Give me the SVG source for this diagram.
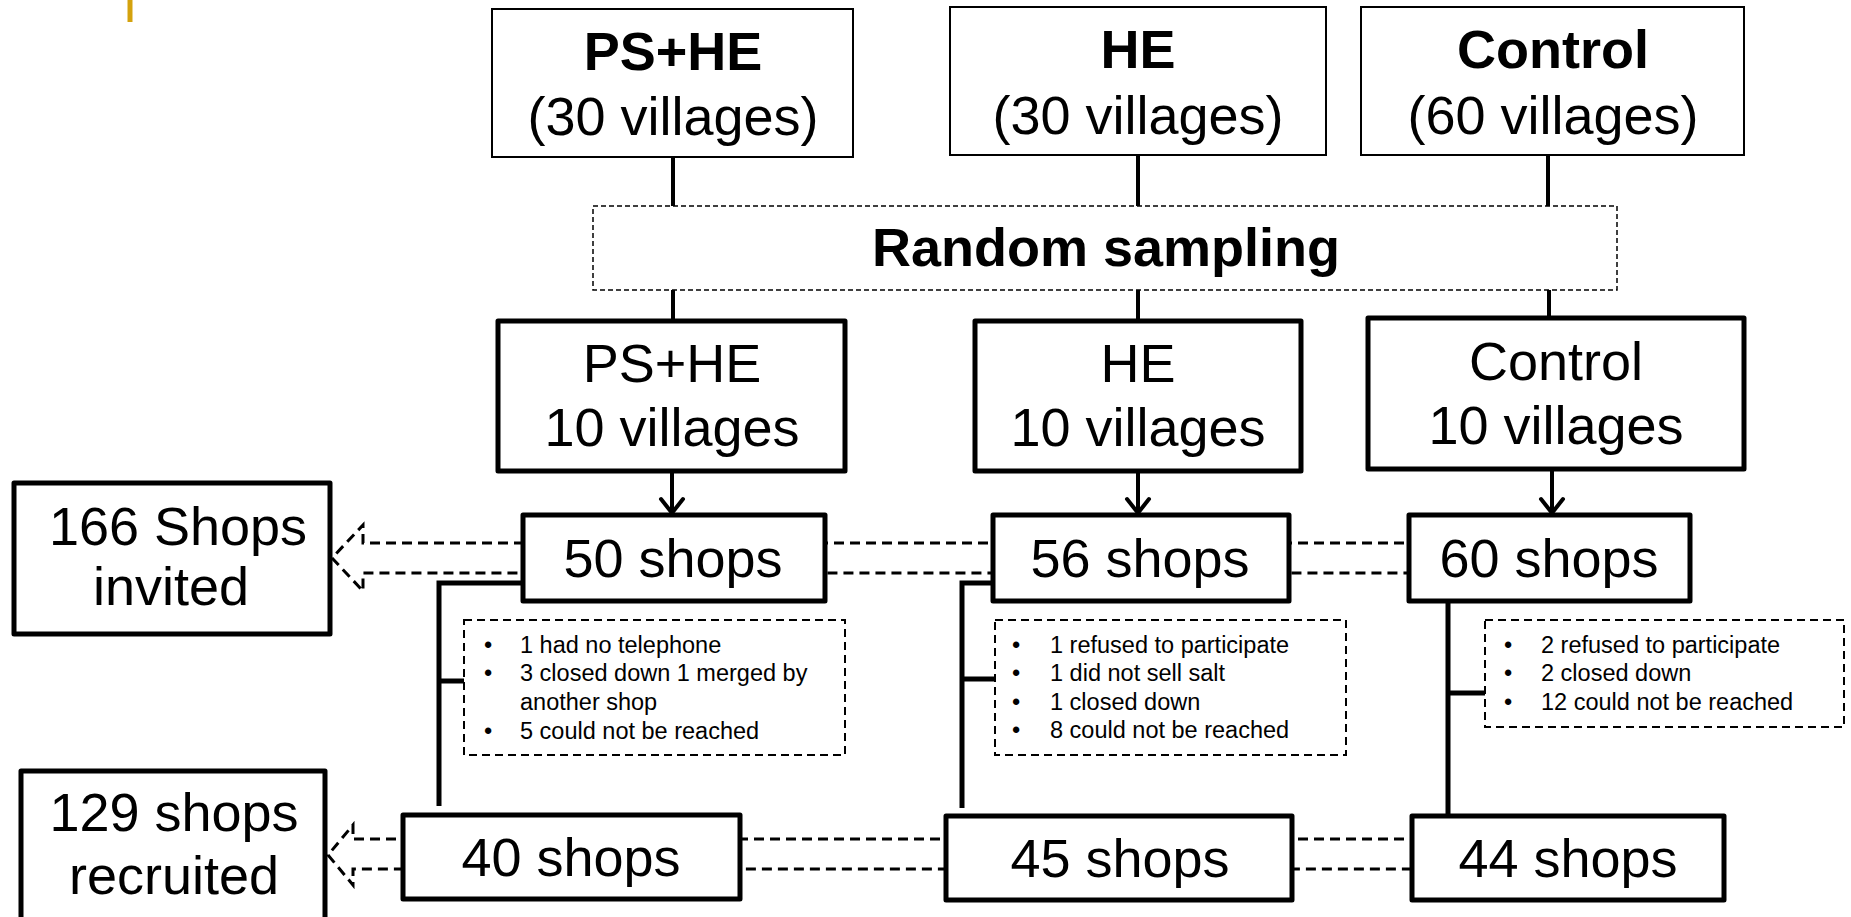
<svg xmlns="http://www.w3.org/2000/svg" width="1851" height="917" viewBox="0 0 1851 917">
<style>
  text { font-family: "Liberation Sans", Arial, sans-serif; fill: #000; }
  .big { font-size: 54px; text-anchor: middle; }
  .bold { font-weight: bold; }
  .small { font-size: 23.5px; }
  .thin { fill: #fff; stroke: #000; stroke-width: 2; }
  .thick { fill: #fff; stroke: #000; stroke-width: 5; stroke-linejoin: round; }
  .dashbox { fill: #fff; stroke: #000; stroke-width: 2; stroke-dasharray: 8 5; }
  .line { fill: none; stroke: #000; stroke-width: 4; }
  .tline { fill: none; stroke: #000; stroke-width: 5; }
  .blockarrow { fill: none; stroke: #000; stroke-width: 3; stroke-dasharray: 10 6; }
  .chev { fill: none; stroke: #000; stroke-width: 4; stroke-linecap: round; stroke-linejoin: round; }
</style>

<line x1="130" y1="0" x2="130" y2="22" stroke="#D4A20E" stroke-width="5"/>

<g id="connectors">
  <path class="blockarrow" d="M1500,543 L363,543 L363,525 L332,558 L363,591 L363,573 L1500,573 Z"/>
  <path class="blockarrow" d="M1500,839 L353,839 L353,825 L328,855 L353,885 L353,869 L1500,869 Z"/>
  <line class="line" x1="673" y1="157" x2="673" y2="206"/>
  <line class="line" x1="1138" y1="155" x2="1138" y2="206"/>
  <line class="line" x1="1548" y1="155" x2="1548" y2="206"/>
  <line class="line" x1="673" y1="290" x2="673" y2="321"/>
  <line class="line" x1="1138" y1="290" x2="1138" y2="321"/>
  <line class="line" x1="1549" y1="290" x2="1549" y2="318"/>
  <line class="line" x1="672" y1="471" x2="672" y2="512"/>
  <path class="chev" d="M661,499 L672,513 L683,499"/>
  <line class="line" x1="1138" y1="471" x2="1138" y2="512"/>
  <path class="chev" d="M1127,499 L1138,513 L1149,499"/>
  <line class="line" x1="1552" y1="469" x2="1552" y2="512"/>
  <path class="chev" d="M1541,499 L1552,513 L1563,499"/>
  <path class="tline" d="M523,583 L439,583 L439,806"/>
  <line class="tline" x1="439" y1="681" x2="466" y2="681"/>
  <path class="tline" d="M993,583 L962,583 L962,808"/>
  <line class="tline" x1="962" y1="679" x2="996" y2="679"/>
  <line class="tline" x1="1448" y1="601" x2="1448" y2="815"/>
  <line class="tline" x1="1448" y1="693" x2="1485" y2="693"/>
</g>

<g id="top-pshe">
  <rect class="thin" x="492" y="9" width="361" height="148"/>
  <text class="big bold" x="673" y="70">PS+HE</text>
  <text class="big" x="673" y="135">(30 villages)</text>
</g>
<g id="top-he">
  <rect class="thin" x="950" y="7" width="376" height="148"/>
  <text class="big bold" x="1138" y="68">HE</text>
  <text class="big" x="1138" y="134">(30 villages)</text>
</g>
<g id="top-control">
  <rect class="thin" x="1361" y="7" width="383" height="148"/>
  <text class="big bold" x="1553" y="68">Control</text>
  <text class="big" x="1553" y="134">(60 villages)</text>
</g>

<g id="random-sampling">
  <rect x="593" y="206" width="1024" height="84" fill="#fff" stroke="#000" stroke-width="1.5" stroke-dasharray="5 3"/>
  <text class="big bold" x="1106" y="266">Random sampling</text>
</g>

<g id="mid-pshe">
  <rect class="thick" x="498" y="321" width="347" height="150"/>
  <text class="big" x="672" y="382">PS+HE</text>
  <text class="big" x="672" y="446">10 villages</text>
</g>
<g id="mid-he">
  <rect class="thick" x="975" y="321" width="326" height="150"/>
  <text class="big" x="1138" y="382">HE</text>
  <text class="big" x="1138" y="446">10 villages</text>
</g>
<g id="mid-control">
  <rect class="thick" x="1368" y="318" width="376" height="151"/>
  <text class="big" x="1556" y="380">Control</text>
  <text class="big" x="1556" y="444">10 villages</text>
</g>

<g id="invited">
  <rect class="thick" x="14" y="483" width="316" height="151"/>
  <text class="big" x="178" y="545">166 Shops</text>
  <text class="big" x="171" y="605">invited</text>
</g>
<g id="recruited">
  <rect class="thick" x="21" y="771" width="304" height="160"/>
  <text class="big" x="174" y="831">129 shops</text>
  <text class="big" x="174" y="894">recruited</text>
</g>

<g id="shops-50">
  <rect class="thick" x="523" y="515" width="302" height="86"/>
  <text class="big" x="673" y="577">50 shops</text>
</g>
<g id="shops-56">
  <rect class="thick" x="993" y="515" width="296" height="86"/>
  <text class="big" x="1140" y="577">56 shops</text>
</g>
<g id="shops-60">
  <rect class="thick" x="1409" y="515" width="281" height="86"/>
  <text class="big" x="1549" y="577">60 shops</text>
</g>

<g id="excl-pshe">
  <rect class="dashbox" x="464" y="620" width="381" height="135"/>
  <text class="small" x="484" y="653">•</text><text class="small" x="520" y="653">1 had no telephone</text>
  <text class="small" x="484" y="681">•</text><text class="small" x="520" y="681">3 closed down 1 merged by</text>
  <text class="small" x="520" y="710">another shop</text>
  <text class="small" x="484" y="739">•</text><text class="small" x="520" y="739">5 could not be reached</text>
</g>
<g id="excl-he">
  <rect class="dashbox" x="995" y="620" width="351" height="135"/>
  <text class="small" x="1012" y="653">•</text><text class="small" x="1050" y="653">1 refused to participate</text>
  <text class="small" x="1012" y="681">•</text><text class="small" x="1050" y="681">1 did not sell salt</text>
  <text class="small" x="1012" y="710">•</text><text class="small" x="1050" y="710">1 closed down</text>
  <text class="small" x="1012" y="738">•</text><text class="small" x="1050" y="738">8 could not be reached</text>
</g>
<g id="excl-control">
  <rect class="dashbox" x="1485" y="620" width="359" height="107"/>
  <text class="small" x="1504" y="653">•</text><text class="small" x="1541" y="653">2 refused to participate</text>
  <text class="small" x="1504" y="681">•</text><text class="small" x="1541" y="681">2 closed down</text>
  <text class="small" x="1504" y="710">•</text><text class="small" x="1541" y="710">12 could not be reached</text>
</g>

<g id="shops-40">
  <rect class="thick" x="403" y="815" width="337" height="84"/>
  <text class="big" x="571" y="876">40 shops</text>
</g>
<g id="shops-45">
  <rect class="thick" x="946" y="816" width="346" height="84"/>
  <text class="big" x="1120" y="877">45 shops</text>
</g>
<g id="shops-44">
  <rect class="thick" x="1412" y="816" width="312" height="84"/>
  <text class="big" x="1568" y="877">44 shops</text>
</g>
</svg>
